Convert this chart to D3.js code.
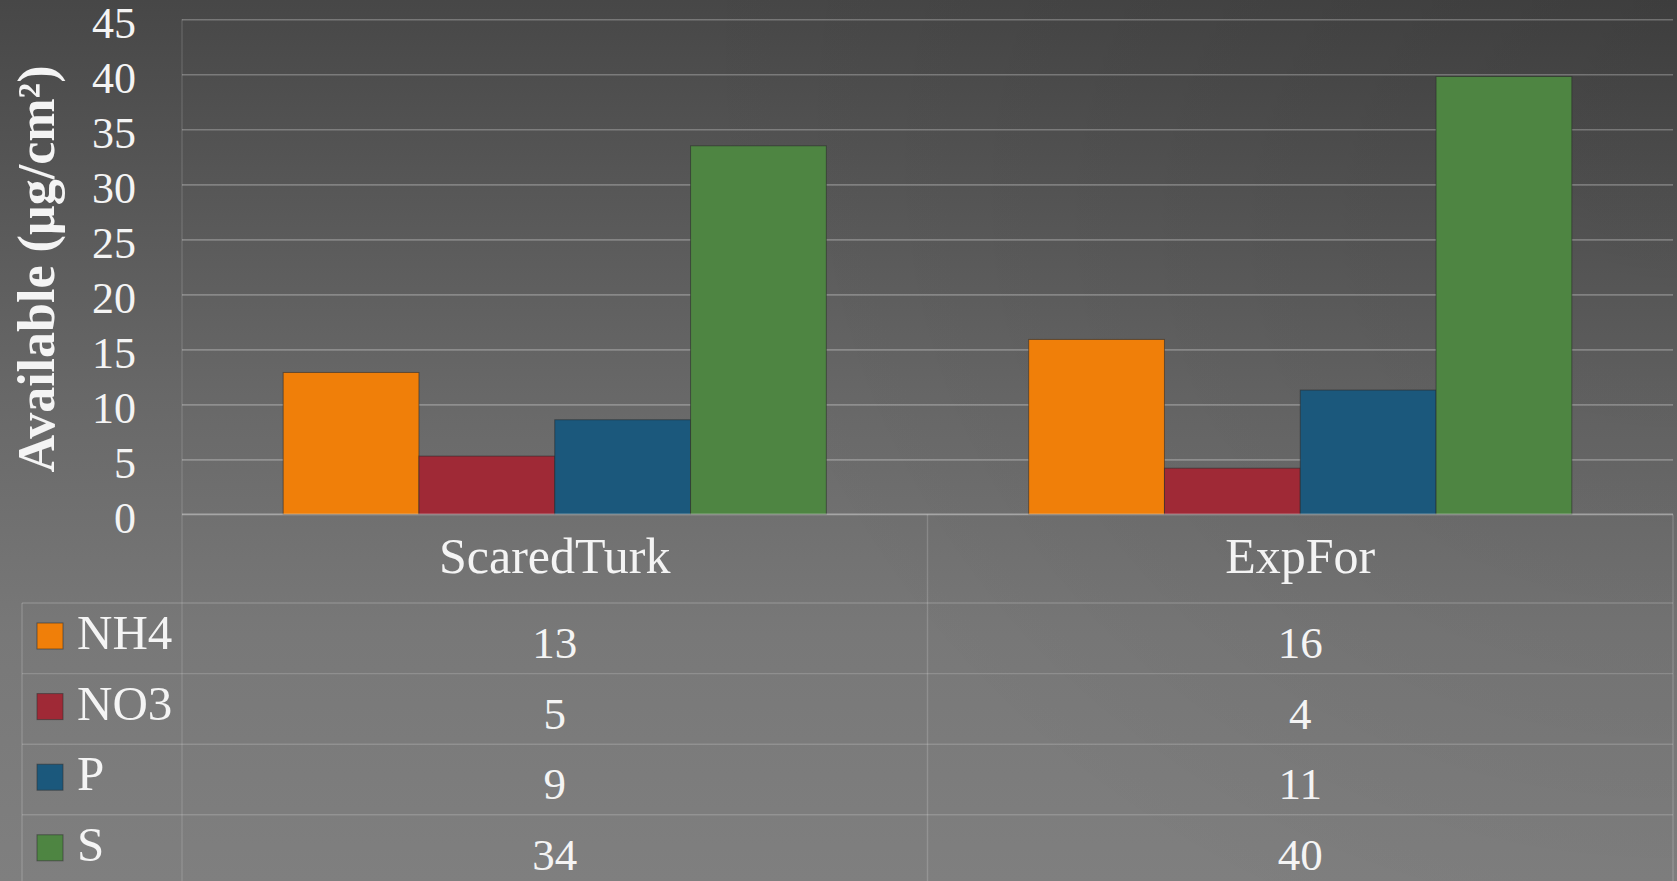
<!DOCTYPE html>
<html>
<head>
<meta charset="utf-8">
<script src="https://cdn.jsdelivr.net/npm/d3@7"></script>
<style>
  html, body { margin: 0; padding: 0; background: #5a5a5a; }
  svg { display: block; }
  text { font-family: "Liberation Serif", "DejaVu Serif", serif; fill: #f4f4f4; }
</style>
</head>
<body>
<svg id="chart" width="1677" height="881"></svg>
<script>
// ---- data ----
const categories = ["ScaredTurk", "ExpFor"];
const seriesNames = ["NH4", "NO3", "P", "S"];
const nh4Values = [12.9, 15.9];
const no3Values = [5.3, 4.2];
const pValues = [8.6, 11.3];
const sValues = [33.5, 39.8];
const seriesColors = ["#F07F09", "#9F2936", "#1B587C", "#4E8542"];
const yTickValues = [0, 5, 10, 15, 20, 25, 30, 35, 40, 45];
const yTitle = "Available (µg/cm²)";

const seriesValues = [nh4Values, no3Values, pValues, sValues];
const series = seriesNames.map((name, i) => ({ name, color: seriesColors[i], values: seriesValues[i] }));

// ---- layout ----
const W = 1677, H = 881;
const plotLeft = 182, plotRight = 1673, plotTop = 19.3, plotBottom = 514.4;
const tableLeft = 22;
const catRowBottom = 603;
const rowH = 70.6;

const svg = d3.select("#chart");

// background
const defs = svg.append("defs");
const lg = defs.append("linearGradient").attr("id", "bg").attr("x1", 0).attr("y1", 0).attr("x2", 0).attr("y2", 1);
lg.append("stop").attr("offset", "0").attr("stop-color", "#474747");
lg.append("stop").attr("offset", "0.45").attr("stop-color", "#686868");
lg.append("stop").attr("offset", "0.72").attr("stop-color", "#787878");
lg.append("stop").attr("offset", "1").attr("stop-color", "#7f7f7f");
const rg = defs.append("radialGradient").attr("id", "shade")
  .attr("gradientUnits", "userSpaceOnUse").attr("cx", W).attr("cy", 0).attr("r", 1000);
rg.append("stop").attr("offset", "0").attr("stop-color", "#000").attr("stop-opacity", 0.14);
rg.append("stop").attr("offset", "1").attr("stop-color", "#000").attr("stop-opacity", 0);

svg.append("rect").attr("width", W).attr("height", H).attr("fill", "url(#bg)");
svg.append("rect").attr("width", W).attr("height", H).attr("fill", "url(#shade)");

// scales
const x = d3.scaleBand().domain(categories).range([plotLeft, plotRight]).padding(0);
const xs = d3.scaleBand().domain(seriesNames).range([0, x.bandwidth()]).paddingInner(0).paddingOuter(0.745);
const y = d3.scaleLinear().domain([0, 45]).range([plotBottom, plotTop]);

// gridlines via axis
const grid = svg.append("g").attr("transform", `translate(${plotLeft},0)`)
  .call(d3.axisRight(y).tickValues(yTickValues.filter(v => v > 0)).tickSize(plotRight - plotLeft).tickFormat(""));
grid.select(".domain").remove();
grid.selectAll(".tick line").attr("stroke", "rgba(255,255,255,0.26)").attr("stroke-width", 1.6);

// plot-area left line
svg.append("line").attr("x1", plotLeft).attr("x2", plotLeft).attr("y1", plotTop).attr("y2", H)
  .attr("stroke", "rgba(255,255,255,0.16)").attr("stroke-width", 1.2);

// bars
const groups = svg.append("g").selectAll("g").data(series).join("g").attr("fill", d => d.color);
groups.selectAll("rect").data(d => d.values.map((v, i) => ({ v, cat: categories[i], name: d.name })))
  .join("rect")
  .attr("x", d => x(d.cat) + xs(d.name))
  .attr("width", xs.bandwidth())
  .attr("y", d => y(d.v))
  .attr("height", d => y(0) - y(d.v))
  .attr("stroke", "rgba(40,40,40,0.55)")
  .attr("stroke-width", 1);

// y tick labels via axis
const yAxis = svg.append("g").attr("transform", `translate(${plotLeft},0)`)
  .call(d3.axisLeft(y).tickValues(yTickValues).tickSize(0).tickPadding(46));
yAxis.select(".domain").remove();
yAxis.selectAll(".tick text")
  .attr("font-family", "Liberation Serif, serif").attr("font-size", 44).attr("fill", "#f4f4f4")
  .attr("dy", "0.42em");

// y title
svg.append("text").attr("transform", `translate(54,${(63 + 475) / 2}) rotate(-90)`)
  .attr("text-anchor", "middle").attr("font-size", 52).attr("font-weight", "bold")
  .text(yTitle);

// ---- data table ----
const tableLines = svg.append("g").attr("stroke", "rgba(255,255,255,0.17)").attr("stroke-width", 1.4);
// x-axis line
svg.append("line").attr("x1", plotLeft).attr("x2", plotRight).attr("y1", plotBottom).attr("y2", plotBottom)
  .attr("stroke", "rgba(255,255,255,0.38)").attr("stroke-width", 1.8);
const rowTops = series.map((d, i) => catRowBottom + i * rowH);
tableLines.selectAll("line.h").data(rowTops).join("line").attr("class", "h")
  .attr("x1", tableLeft).attr("x2", plotRight).attr("y1", d => d).attr("y2", d => d);
tableLines.append("line").attr("x1", tableLeft).attr("x2", tableLeft).attr("y1", catRowBottom).attr("y2", H);
tableLines.append("line").attr("x1", x("ExpFor")).attr("x2", x("ExpFor")).attr("y1", plotBottom).attr("y2", H);
tableLines.append("line").attr("x1", plotRight).attr("x2", plotRight).attr("y1", plotBottom).attr("y2", H);

// category labels
svg.append("g").selectAll("text").data(categories).join("text")
  .attr("x", d => x(d) + x.bandwidth() / 2).attr("y", 573)
  .attr("text-anchor", "middle").attr("font-size", 50).text(d => d);

// legend cells
const fmt = d3.format(".0f");
const rows = svg.append("g").selectAll("g").data(series).join("g")
  .attr("transform", (d, i) => `translate(0,${rowTops[i]})`);
rows.append("rect").attr("x", 37).attr("y", 20).attr("width", 26).attr("height", 26)
  .attr("fill", d => d.color).attr("stroke", "rgba(50,50,50,0.6)").attr("stroke-width", 1);
rows.append("text").attr("x", 77).attr("y", 46).attr("font-size", 49).text(d => d.name);
rows.selectAll("text.val").data(d => d.values.map((v, i) => ({ v, cat: categories[i] })))
  .join("text").attr("class", "val")
  .attr("x", d => x(d.cat) + x.bandwidth() / 2).attr("y", 55)
  .attr("text-anchor", "middle").attr("font-size", 45).text(d => fmt(d.v));
</script>
</body>
</html>
